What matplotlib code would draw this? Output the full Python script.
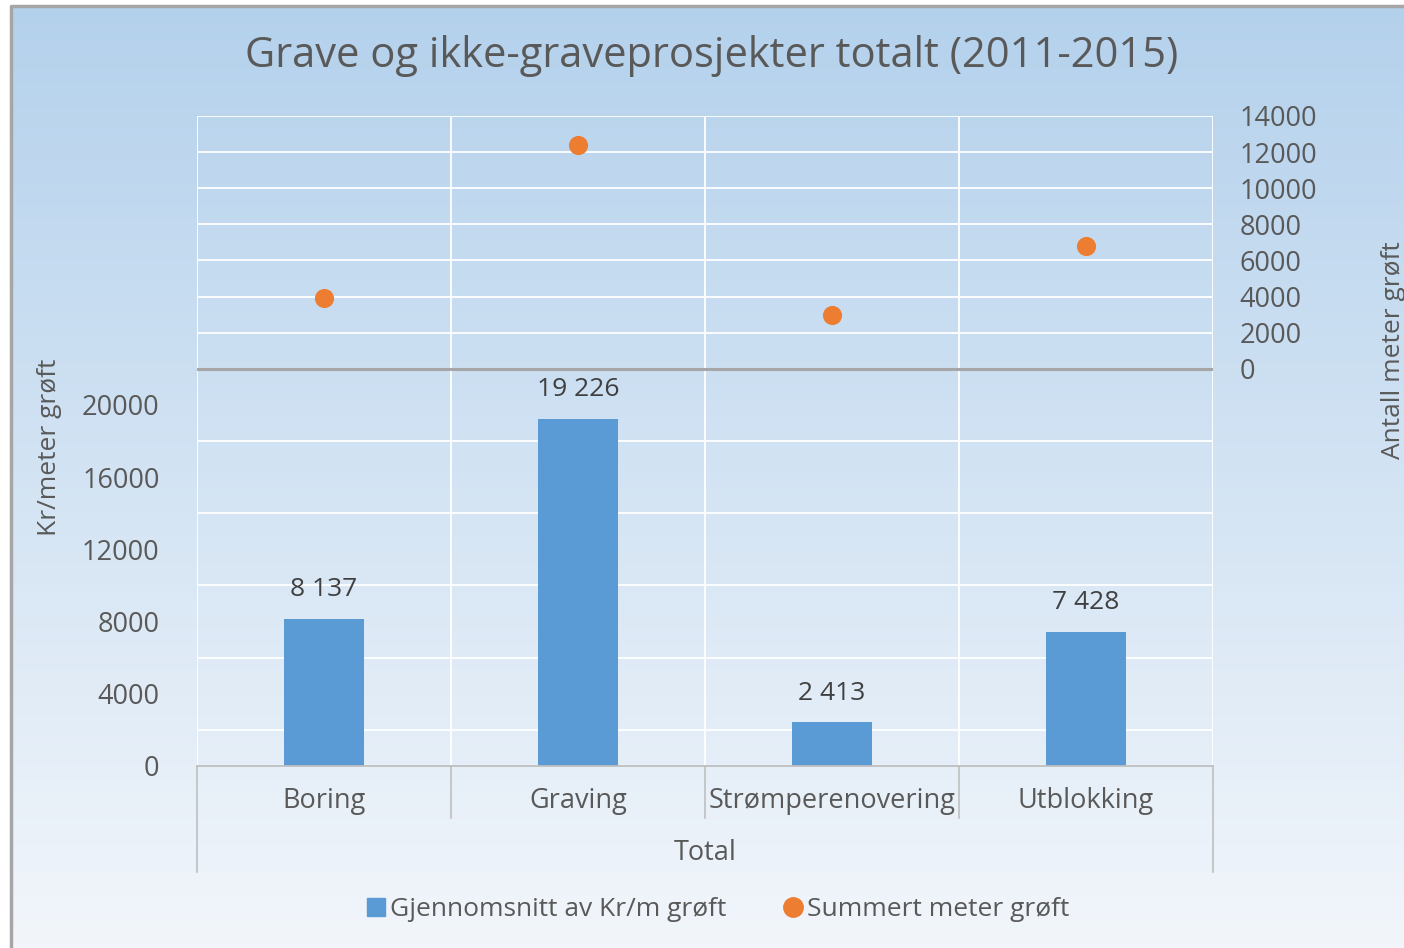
import numpy as np
import matplotlib
matplotlib.use("Agg")
import matplotlib.pyplot as plt
from matplotlib.lines import Line2D
from matplotlib.transforms import blended_transform_factory

plt.rcParams["font.family"] = ["Open Sans", "DejaVu Sans"]

# data
categories = ["Boring", "Graving", "Strømperenovering", "Utblokking"]
group_label = "Total"
kr_per_meter = [8137, 19226, 2413, 7428]
meter_sum = [3900, 12400, 3000, 6800]
left_ticks = [0, 4000, 8000, 12000, 16000, 20000]
right_ticks = [0, 2000, 4000, 6000, 8000, 10000, 12000, 14000]

BLUE = "#5b9bd5"
ORANGE = "#ed7d31"
TXT = "#595959"
W, H = 1404, 948

fig = plt.figure(figsize=(W / 100, H / 100), dpi=100)

# gradient background with thin grey frame
bg = fig.add_axes([0, 0, 1, 1])
bg.set_xlim(0, W)
bg.set_ylim(H, 0)
bg.axis("off")
top_c = np.array([180, 209, 236]) / 255
bot_c = np.array([242, 246, 251]) / 255
t = np.linspace(0, 1, 256)[:, None]
grad = (top_c * (1 - t) + bot_c * t)[:, None, :]
bg.imshow(grad, extent=[11, W, H, 6], aspect="auto")
bg.plot([11, 11, W], [H, 6, 6], color="#a6a6a6", lw=2.5)

ax = fig.add_axes([197 / W, 1 - 766 / H, (1213 - 197) / W, (766 - 116) / H])
ax.patch.set_alpha(0)
x = np.arange(len(categories))
ax.bar(x, kr_per_meter, width=0.315, color=BLUE, zorder=3)
ax.set_xlim(-0.5, len(categories) - 0.5)
ax.set_ylim(0, 36000)
ax.set_yticks(left_ticks)
ax.set_yticklabels([str(v) for v in left_ticks])
ax.set_yticks(np.arange(0, 36001, 2000), minor=True)
ax.set_xticks([])
ax.set_xticks(np.arange(-0.5, len(categories)), minor=True)
ax.grid(which="minor", color="white", lw=1.3, zorder=0)
ax.tick_params(which="both", length=0, labelsize=19.5, colors=TXT, pad=27)
for s in ["top", "left", "right"]:
    ax.spines[s].set_visible(False)
ax.spines["bottom"].set_color("#bfbfbf")
ax.spines["bottom"].set_linewidth(1.3)
ax.spines["bottom"].set_zorder(4)
ax.set_ylabel("Kr/meter grøft", fontsize=19, color=TXT)
ax.yaxis.set_label_coords(-0.133, 0.49)

for xi, v in zip(x, kr_per_meter):
    ax.annotate(f"{v:,}".replace(",", " "), (xi, v), xytext=(0, 21),
                textcoords="offset points", ha="center", va="center",
                fontsize=19, color="#404040")

# multi-level category axis
tr = blended_transform_factory(ax.transData, ax.transAxes)
for i, c in enumerate(categories):
    ax.text(i, -0.054, c, transform=tr, ha="center", va="center",
            fontsize=19.5, color=TXT)
ax.text((len(categories) - 1) / 2, -0.134, group_label, transform=tr,
        ha="center", va="center", fontsize=19.5, color=TXT)
for b in np.arange(0.5, len(categories) - 1):
    ax.plot([b, b], [0, -0.08], transform=tr, color="#bfbfbf", lw=1.2,
            clip_on=False)
for b in [-0.5, len(categories) - 0.5]:
    ax.plot([b, b], [0, -0.163], transform=tr, color="#bfbfbf", lw=1.2,
            clip_on=False)

ax2 = ax.twinx()
ax2.set_ylim(-22000, 14000)
ax2.axhline(0, color="#a6a6a6", lw=2.2, zorder=2)
ax2.scatter(x, meter_sum, s=190, color=ORANGE, zorder=5, linewidths=0)
ax2.set_yticks(right_ticks)
ax2.set_yticklabels([str(v) for v in right_ticks], ha="left")
ax2.tick_params(length=0, labelsize=19.5, colors=TXT, pad=19)
for s in ax2.spines.values():
    s.set_visible(False)
ax2.set_ylabel("Antall meter grøft", fontsize=19, color=TXT)
ax2.yaxis.set_label_coords(1.165, 0.64)

fig.text(712 / W, 1 - 56 / H, "Grave og ikke-graveprosjekter totalt (2011-2015)",
         ha="center", va="center", fontsize=30, color=TXT)

handles = [
    Line2D([], [], marker="s", ls="none", color=BLUE, markersize=13),
    Line2D([], [], marker="o", ls="none", color=ORANGE, markersize=14),
]
fig.legend(handles, ["Gjennomsnitt av Kr/m grøft", "Summert meter grøft"],
           loc="center", bbox_to_anchor=(716 / W, 1 - 910 / H), ncol=2,
           frameon=False, fontsize=19, handletextpad=0.05, columnspacing=2.0,
           labelcolor=TXT, handlelength=1.0)

fig.savefig("out.png", dpi=100)
